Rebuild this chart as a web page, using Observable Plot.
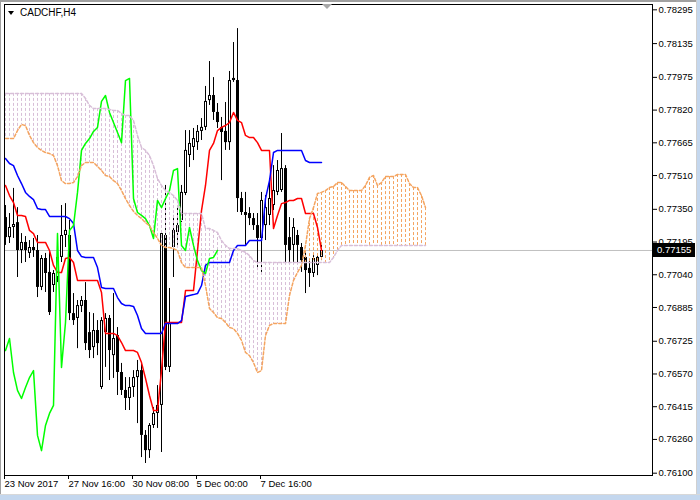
<!DOCTYPE html>
<html><head><meta charset="utf-8">
<script src="https://cdn.jsdelivr.net/npm/d3@7"></script>
<script src="https://cdn.jsdelivr.net/npm/@observablehq/plot@0.6"></script>
<style>
html,body{margin:0;padding:0;background:#fff;}
#wrap{position:relative;width:700px;height:500px;overflow:hidden;background:#fff;}
#chart svg{display:block;}
#title{position:absolute;left:20px;top:7px;font:10px "Liberation Sans",Arial,sans-serif;color:#000;white-space:nowrap;}
#tri{position:absolute;left:8px;top:11px;width:0;height:0;border-left:3.5px solid transparent;border-right:3.5px solid transparent;border-top:4px solid #000;}
#shift{position:absolute;left:322px;top:4px;width:0;height:0;border-left:5px solid transparent;border-right:5px solid transparent;border-top:5px solid #a8a8a8;}
#topb{position:absolute;left:0;top:0;width:700px;height:2px;background:#a0a0a0;}
#leftb{position:absolute;left:0;top:0;width:1px;height:500px;background:#a0a0a0;}
#rightb{position:absolute;left:696px;top:0;width:1px;height:500px;background:#d0d0d0;}
#rightb2{position:absolute;left:697px;top:0;width:3px;height:500px;background:#c4d7ee;}
#botb{position:absolute;left:0;top:494px;width:700px;height:1px;background:#d8d8d8;}
#botb2{position:absolute;left:0;top:495px;width:700px;height:5px;background:#c4d7ee;}
</style></head><body>
<div id="wrap"><div id="chart"></div>
<div id="topb"></div><div id="leftb"></div><div id="rightb"></div><div id="rightb2"></div><div id="botb"></div><div id="botb2"></div>
<div id="tri"></div><div id="title"></div><div id="shift"></div></div>
<script>
const symbolTitle = "CADCHF,H4";
const opens = [0.77311,0.77216,0.77264,0.77287,0.77155,0.77193,0.77141,0.77169,0.77155,0.76980,
0.77117,0.77051,0.76989,0.77027,0.77122,0.77226,0.77226,0.76856,0.76833,0.76890,
0.76918,0.76766,0.76695,0.76776,0.76506,0.76766,0.76833,0.76657,0.76752,0.76577,
0.76492,0.76454,0.76506,0.76553,0.76586,0.76279,0.76207,0.76326,0.76383,0.76421,
0.77226,0.76601,0.77169,0.77240,0.77297,0.77425,0.77605,0.77643,0.77666,0.77719,
0.77738,0.77865,0.77889,0.77809,0.77738,0.77719,0.77666,0.77960,0.77960,0.77401,
0.77335,0.77330,0.77306,0.77273,0.77212,0.77273,0.77321,0.77368,0.77430,0.77439,
0.77543,0.77216,0.77179,0.77226,0.77169,0.77122,0.77070,0.77046,0.77084,0.77122];
const highs = [0.77368,0.77330,0.77449,0.77358,0.77235,0.77221,0.77202,0.77212,0.77226,0.77131,
0.77141,0.77146,0.77060,0.77202,0.77368,0.77377,0.77297,0.76951,0.76918,0.76937,
0.77003,0.76861,0.76856,0.76823,0.76837,0.76856,0.76847,0.76951,0.76790,0.76620,
0.76553,0.76553,0.76586,0.76634,0.76624,0.76302,0.76335,0.76411,0.76515,0.77235,
0.77463,0.76975,0.77321,0.77358,0.77463,0.77723,0.77723,0.77733,0.77747,0.77780,
0.77932,0.78050,0.77974,0.77851,0.77785,0.77856,0.78003,0.78140,0.78206,0.77430,
0.77430,0.77358,0.77330,0.77330,0.77430,0.77415,0.77496,0.77557,0.77581,0.77709,
0.77557,0.77311,0.77306,0.77250,0.77188,0.77155,0.77107,0.77131,0.77131,0.77179];
const lows = [0.77179,0.77188,0.77212,0.77027,0.77093,0.77098,0.77117,0.77122,0.76932,0.76965,
0.76956,0.76847,0.76956,0.77003,0.77098,0.77169,0.76823,0.76800,0.76690,0.76861,
0.76681,0.76643,0.76643,0.76657,0.76496,0.76601,0.76539,0.76549,0.76468,0.76468,
0.76397,0.76397,0.76459,0.76335,0.76174,0.76146,0.76170,0.76312,0.76312,0.76198,
0.76586,0.76577,0.77027,0.77179,0.77287,0.77415,0.77548,0.77581,0.77629,0.77676,
0.77723,0.77842,0.77771,0.77733,0.77486,0.77629,0.77629,0.77951,0.77335,0.77321,
0.77179,0.77273,0.77250,0.77060,0.77051,0.77202,0.77273,0.77344,0.77415,0.77430,
0.77098,0.77084,0.77098,0.77084,0.77051,0.76951,0.76980,0.77027,0.77036,0.77107];
const closes = [0.77216,0.77264,0.77278,0.77155,0.77193,0.77155,0.77169,0.77155,0.76980,0.77117,
0.77046,0.76861,0.77046,0.77122,0.77226,0.77250,0.76856,0.76823,0.76894,0.76918,
0.76714,0.76681,0.76776,0.76714,0.76823,0.76833,0.76681,0.76738,0.76577,0.76492,
0.76454,0.76506,0.76553,0.76586,0.76279,0.76207,0.76326,0.76383,0.76421,0.77235,
0.76601,0.76814,0.77250,0.77273,0.77430,0.77629,0.77662,0.77685,0.77719,0.77738,
0.77861,0.77889,0.77809,0.77761,0.77714,0.77666,0.77960,0.77970,0.77401,0.77335,
0.77321,0.77306,0.77273,0.77212,0.77392,0.77358,0.77401,0.77439,0.77534,0.77543,
0.77179,0.77155,0.77264,0.77179,0.77107,0.77060,0.77046,0.77117,0.77122,0.77155];
const tenkan = [0.77463,0.77415,0.77382,0.77321,0.77321,0.77316,0.77250,0.77235,0.77193,0.77193,
0.77193,0.77155,0.77084,0.77051,0.77051,0.77117,0.77122,0.77098,0.77013,0.77013,
0.77013,0.77013,0.77013,0.77013,0.76956,0.76762,0.76762,0.76762,0.76752,0.76719,
0.76681,0.76681,0.76681,0.76672,0.76624,0.76549,0.76468,0.76397,0.76397,0.76586,
0.76814,0.76814,0.76814,0.76814,0.76814,0.76965,0.76965,0.76965,0.77155,0.77344,
0.77463,0.77629,0.77662,0.77723,0.77738,0.77747,0.77761,0.77809,0.77771,0.77761,
0.77700,0.77690,0.77690,0.77666,0.77629,0.77629,0.77629,0.77259,0.77321,0.77377,
0.77382,0.77392,0.77392,0.77401,0.77401,0.77330,0.77330,0.77330,0.77264,0.77155];
const kijun = [0.77591,0.77567,0.77557,0.77510,0.77472,0.77430,0.77411,0.77396,0.77354,0.77349,
0.77349,0.77316,0.77316,0.77316,0.77316,0.77316,0.77306,0.77283,0.77155,0.77126,
0.77122,0.77122,0.77122,0.77074,0.76980,0.76975,0.76975,0.76975,0.76932,0.76904,
0.76894,0.76894,0.76890,0.76847,0.76785,0.76762,0.76762,0.76762,0.76762,0.76762,
0.76809,0.76809,0.76809,0.76809,0.76823,0.76937,0.76942,0.76946,0.76951,0.76989,
0.77084,0.77098,0.77098,0.77098,0.77098,0.77098,0.77098,0.77155,0.77179,0.77179,
0.77179,0.77202,0.77202,0.77202,0.77202,0.77401,0.77486,0.77619,0.77629,0.77629,
0.77629,0.77629,0.77629,0.77629,0.77629,0.77581,0.77572,0.77572,0.77572,0.77572];
const spanA = [0.77685,0.77685,0.77685,0.77723,0.77752,0.77747,0.77700,0.77666,0.77643,0.77629,
0.77619,0.77614,0.77605,0.77557,0.77486,0.77472,0.77472,0.77477,0.77505,0.77557,
0.77572,0.77572,0.77572,0.77553,0.77534,0.77510,0.77505,0.77486,0.77472,0.77439,
0.77401,0.77368,0.77340,0.77321,0.77306,0.77287,0.77273,0.77240,0.77212,0.77179,
0.77169,0.77169,0.77164,0.77155,0.77098,0.77074,0.77074,0.77074,0.77074,0.77074,
0.76989,0.76880,0.76861,0.76837,0.76833,0.76814,0.76790,0.76785,0.76762,0.76729,
0.76672,0.76657,0.76624,0.76577,0.76586,0.76752,0.76800,0.76809,0.76809,0.76809,
0.76809,0.76942,0.77013,0.77051,0.77084,0.77179,0.77306,0.77358,0.77425,0.77430,
0.77439,0.77453,0.77458,0.77477,0.77477,0.77458,0.77439,0.77439,0.77439,0.77439,
0.77463,0.77501,0.77510,0.77463,0.77477,0.77505,0.77505,0.77505,0.77515,0.77515,
0.77515,0.77472,0.77453,0.77453,0.77415,0.77358];
const spanB = [0.77899,0.77899,0.77899,0.77899,0.77899,0.77899,0.77899,0.77899,0.77899,0.77899,
0.77899,0.77899,0.77899,0.77899,0.77899,0.77899,0.77899,0.77899,0.77899,0.77899,
0.77875,0.77842,0.77827,0.77827,0.77827,0.77827,0.77823,0.77818,0.77818,0.77804,
0.77794,0.77794,0.77771,0.77700,0.77643,0.77629,0.77605,0.77557,0.77496,0.77463,
0.77439,0.77430,0.77415,0.77392,0.77330,0.77330,0.77330,0.77330,0.77330,0.77330,
0.77259,0.77259,0.77250,0.77240,0.77202,0.77179,0.77164,0.77164,0.77164,0.77155,
0.77146,0.77131,0.77107,0.77098,0.77098,0.77098,0.77098,0.77098,0.77098,0.77098,
0.77098,0.77098,0.77098,0.77098,0.77098,0.77098,0.77098,0.77098,0.77098,0.77098,
0.77098,0.77098,0.77122,0.77155,0.77179,0.77179,0.77179,0.77179,0.77179,0.77179,
0.77179,0.77179,0.77179,0.77179,0.77179,0.77179,0.77179,0.77179,0.77179,0.77179,
0.77179,0.77179,0.77179,0.77179,0.77179,0.77179];
const chikouShift = 26;
const yTicks = [0.78295,0.78135,0.77975,0.77820,0.77665,0.77510,0.77350,0.77195,0.77040,0.76885,0.76725,0.76570,0.76415,0.76260,0.76100];
const xTickBars = [0, 16, 32, 48, 64];
const xTickLabels = ["23 Nov 2017", "27 Nov 16:00", "30 Nov 08:00", "5 Dec 00:00", "7 Dec 16:00"];

const SANDY = "#F4A460", THISTLE = "#D8BFD8";
const FONT = '"Liberation Sans", Arial, sans-serif';
const bars = opens.map((o, i) => ({i, o, h: highs[i], l: lows[i], c: closes[i]}));
const bulls = bars.filter(d => d.c >= d.o);
const cloud = spanA.map((a, i) => ({i, a, b: spanB[i]}));
const lines = tenkan.map((t, i) => ({i, t, k: kijun[i]}));
const chikou = closes.slice(chikouShift).map((v, i) => ({i, v}));
const lastPrice = closes[closes.length - 1];

const W = 700, H = 500, MR = 48;
const plot = Plot.plot({
  width: W, height: H,
  marginLeft: 4, marginRight: MR, marginTop: 4, marginBottom: 25,
  x: {domain: [-0.25, 161.75]},
  y: {domain: [0.760891, 0.783202]},
  style: {fontFamily: FONT, fontSize: "9.5px", color: "#000", background: "transparent", overflow: "visible"},
  marks: [
    Plot.ruleY([lastPrice], {stroke: "#c0c0c0"}),
    Plot.ruleX(bars, {x: "i", y1: "l", y2: "h", stroke: "#000"}),
    Plot.ruleX(bars, {x: "i", y1: "o", y2: "c", stroke: "#000", strokeWidth: 3}),
    Plot.ruleX(bulls, {x: "i", y1: "c", y2: "o", stroke: "#fff", insetTop: 1, insetBottom: 1}),
    Plot.ruleX(cloud.filter(d => d.b > d.a), {x: "i", y1: "b", y2: "a", stroke: THISTLE, strokeDasharray: "3,2"}),
    Plot.ruleX(cloud.filter(d => d.a > d.b), {x: "i", y1: "a", y2: "b", stroke: SANDY, strokeDasharray: "3,2"}),
    Plot.line(lines, {x: "i", y: "t", stroke: "#ff0000"}),
    Plot.line(lines, {x: "i", y: "k", stroke: "#0000ff"}),
    Plot.line(chikou, {x: "i", y: "v", stroke: "#00ff00"}),
    Plot.line(cloud, {x: "i", y: "a", stroke: SANDY, strokeDasharray: "3,2"}),
    Plot.line(cloud, {x: "i", y: "b", stroke: THISTLE, strokeDasharray: "3,2"}),
    Plot.frame({stroke: "#000"}),
    Plot.axisY({anchor: "right", ticks: yTicks, tickFormat: d => d.toFixed(5), tickSize: 4, tickPadding: 2, label: null}),
    Plot.axisX({anchor: "bottom", ticks: xTickBars, tickFormat: d => xTickLabels[xTickBars.indexOf(d)], tickSize: 4, tickPadding: 1, textAnchor: "start", dx: -1, label: null})
  ]
});
document.getElementById("chart").appendChild(plot);
document.getElementById("title").textContent = symbolTitle;
const yPix = plot.scale("y").apply(lastPrice);
const g = d3.select(plot).append("g");
g.append("rect").attr("x", W - MR + 1).attr("y", Math.round(yPix) - 7).attr("width", 42).attr("height", 14).attr("fill", "#000");
g.append("text").attr("x", W - MR + 5).attr("y", yPix).attr("dy", "0.35em").attr("fill", "#fff")
  .attr("text-anchor", "start").attr("font-family", FONT).attr("font-size", 9.5).text(lastPrice.toFixed(5));
</script>
</body></html>
